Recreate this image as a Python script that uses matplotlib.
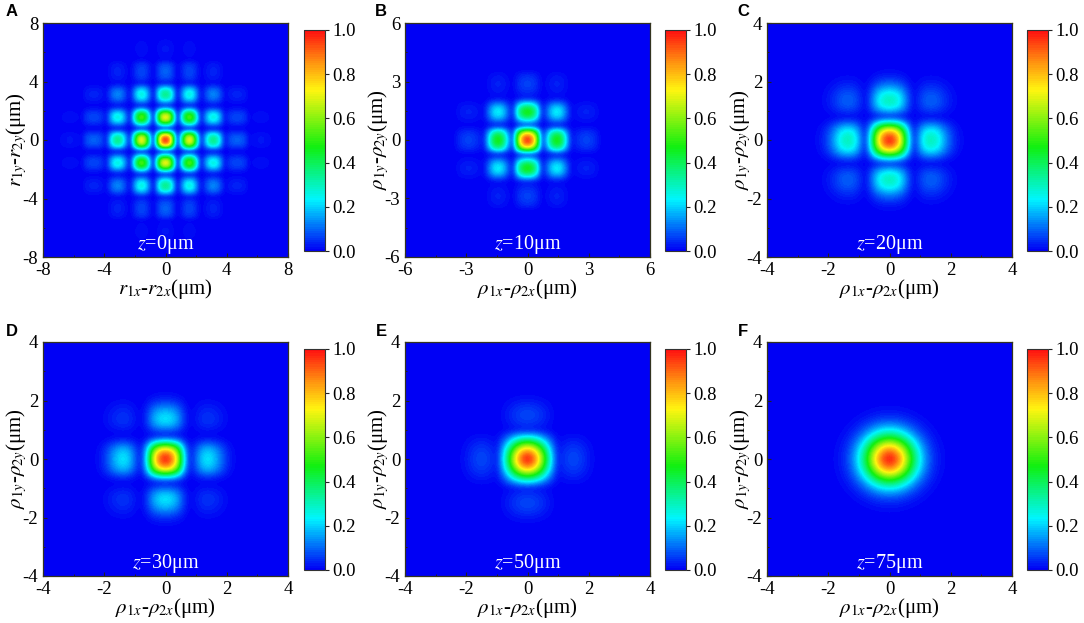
import matplotlib
matplotlib.use("Agg")
import matplotlib.pyplot as plt
import numpy as np
from matplotlib.colors import LinearSegmentedColormap

# 1D intensity profiles read along the centre line of each panel, from 0 outward
step_a = 0.26
profile_a = [1.0, .90, .50, .03, .30, .64, .76, .64, .30, .03, .17, .32, .37, .32, .17, .02,
             .07, .09, .10, .09, .07, .01, .015, .02, .025, .02, .015, .005, .004, .003, .002, .001]
step_b = 0.24
profile_b = [1.0, .90, .58, .05, .20, .42, .50, .42, .20, .02, .04, .06, .07, .06, .04, .004,
             .005, .006, .006, .005, .004, .002, .002, .001, .001, .001, .001]
step_c = 0.2
profile_c = [1.0, .92, .68, .30, .03, .18, .29, .31, .26, .16, .08, .03, .008, .008, .008, .006,
             .003, .001, 0, 0, 0, 0]
profile_d = [1.0, .92, .68, .26, .02, .10, .20, .23, .19, .12, .05, .015, .003, .002, .001, .001,
             0, 0, 0, 0, 0, 0]
profile_e = [1.0, .92, .72, .45, .20, .03, .05, .07, .07, .05, .025, .008, .002, .001, .001, 0,
             0, 0, 0, 0, 0, 0]
profile_f = [1.0, .94, .80, .60, .40, .24, .13, .06, .026, .01, .004, .002, .001, .001, 0, 0,
             0, 0, 0, 0, 0, 0]

panel_letters = ["A", "B", "C", "D", "E", "F"]
z_values = [0, 10, 20, 30, 50, 75]
limits = [8, 6, 4, 4, 4, 4]
tick_steps = [4, 3, 2, 2, 2, 2]
profiles = [profile_a, profile_b, profile_c, profile_d, profile_e, profile_f]
steps = [step_a, step_b, step_c, step_c, step_c, step_c]
cbar_ticks = [0.0, 0.2, 0.4, 0.6, 0.8, 1.0]

plt.rcParams["font.family"] = ["Liberation Serif", "DejaVu Serif"]
plt.rcParams["mathtext.fontset"] = "stix"
plt.rcParams["axes.unicode_minus"] = False

rainbow = LinearSegmentedColormap.from_list(
    "origin_rainbow",
    [(0.0, "#0000f5"), (0.23, "#00f5ff"), (0.47, "#10f010"), (0.73, "#fff510"),
     (0.86, "#ff9010"), (1.0, "#ff1010")],
    N=100,
)

W, H = 1084, 623
fig = plt.figure(figsize=(W / 100, H / 100), dpi=100)


def px_axes(left, top, right, bottom):
    return fig.add_axes([left / W, 1 - bottom / H, (right - left) / W, (bottom - top) / H])


ax_lefts = [43, 405, 767]
bar_lefts = [304, 665, 1027]
letter_x = [12, 381, 743]
ax_tops = [23, 342]

for i in range(6):
    row, col = i // 3, i % 3
    left, top = ax_lefts[col], ax_tops[row]
    ax = px_axes(left, top, left + 245, top + 234)

    half = np.array(profiles[i])
    line = np.concatenate([half[:0:-1], half])
    field = np.outer(line, line)
    edge = (len(half) - 0.5) * steps[i]
    im = ax.imshow(field, cmap=rainbow, vmin=0, vmax=1, origin="lower", aspect="auto",
                   extent=[-edge, edge, -edge, edge], interpolation="bicubic")
    lim = limits[i]
    ax.set_xlim(-lim, lim)
    ax.set_ylim(-lim, lim)

    ticks = np.arange(-lim, lim + 1, tick_steps[i])
    ax.set_xticks(ticks)
    ax.set_yticks(ticks)
    ax.set_xticks(np.arange(-lim, lim + 0.1, tick_steps[i] / 2), minor=True)
    ax.set_yticks(np.arange(-lim, lim + 0.1, tick_steps[i] / 2), minor=True)
    ax.tick_params(which="major", direction="in", length=3, width=0.8, labelsize=13.5, pad=3.5, color="#222222")
    ax.tick_params(which="minor", direction="in", length=1.5, width=0.7, color="#222222")
    for s in ax.spines.values():
        s.set_linewidth(0.9)
        s.set_color("#33331f")

    if i == 0:
        xlabel = r"$r_{1x}$-$r_{2x}$(μm)"
        ylabel = r"$r_{1y}$-$r_{2y}$(μm)"
    else:
        xlabel = r"$\rho_{1x}$-$\rho_{2x}$(μm)"
        ylabel = r"$\rho_{1y}$-$\rho_{2y}$(μm)"
    ax.set_xlabel(xlabel, fontsize=15, labelpad=-1.5)
    ax.set_ylabel(ylabel, fontsize=15, labelpad=-5)

    ax.text(0.5, 0.052, r"$z$=%dμm" % z_values[i], color="white", fontsize=14.5,
            ha="center", va="center", transform=ax.transAxes)

    cax = px_axes(bar_lefts[col], top + 7, bar_lefts[col] + 21, top + 228)
    cb = fig.colorbar(im, cax=cax, ticks=cbar_ticks)
    cb.ax.set_yticklabels(["%.1f" % t for t in cbar_ticks])
    cb.ax.tick_params(direction="out", length=3, width=0.8, labelsize=13.5, pad=2, color="#222222")
    cb.outline.set_linewidth(0.8)
    cb.outline.set_edgecolor("#333333")

    fig.text(letter_x[col] / W, 1 - (top - 11) / H, panel_letters[i], family="Liberation Sans",
             fontweight="bold", fontsize=12, ha="center", va="center")

fig.savefig("out.png", dpi=100)
